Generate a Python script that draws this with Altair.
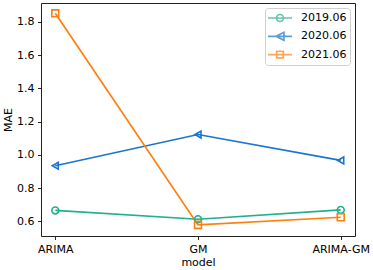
import altair as alt
import pandas as pd

models = ["ARIMA", "GM", "ARIMA-GM"]
series = ["2019.06", "2020.06", "2021.06"]
s2019 = [0.665, 0.612, 0.668]
s2020 = [0.934, 1.122, 0.966]
s2021 = [1.852, 0.578, 0.624]
colors = ["#1fb08c", "#1a74d2", "#ff7f0e"]
marker_shapes = ["circle", "triangle-left", "square"]
legend_shapes = [
    "M-2,0H2M-0.58,0A0.58,0.58 0 1,0 0.58,0A0.58,0.58 0 1,0 -0.58,0",
    "M-2,0H2M-0.66,0L0.66,-0.66L0.66,0.66Z",
    "M-2,0H2M-0.56,-0.56H0.56V0.56H-0.56Z",
]

rows = []
for name, vals in zip(series, [s2019, s2020, s2021]):
    for m, v in zip(models, vals):
        rows.append({"model": m, "series": name, "MAE": v})
df = pd.DataFrame(rows)

FONT = "DejaVu Sans"

x_enc = alt.X(
    "model:N",
    sort=models,
    scale=alt.Scale(type="point", padding=0.1),
    axis=alt.Axis(title="model", labelAngle=0, titleY=20, titleBaseline="top"),
)
y_enc = alt.Y(
    "MAE:Q",
    scale=alt.Scale(domain=[0.511, 1.914], nice=False, zero=False),
    axis=alt.Axis(
        title="MAE",
        values=[0.6, 0.8, 1.0, 1.2, 1.4, 1.6, 1.8],
        format=".1f",
        titleX=-33,
        titleY=116.5,
        titleBaseline="middle",
        titleAlign="center",
        titleAngle=270,
    ),
)
color_main = alt.Color(
    "series:N", scale=alt.Scale(domain=series, range=colors), legend=None
)

lines = alt.Chart(df).mark_line(strokeWidth=1.7).encode(
    x=x_enc, y=y_enc, color=color_main, detail="series:N", order="series:N"
)
points = alt.Chart(df).mark_point(filled=False, size=48, strokeWidth=1.6, opacity=1).encode(
    x=x_enc,
    y=y_enc,
    color=color_main,
    shape=alt.Shape("series:N", scale=alt.Scale(domain=series, range=marker_shapes), legend=None),
)
main = alt.layer(lines, points)

leg = alt.Legend(
    title=None,
    orient="top-right",
    offset=5,
    symbolSize=144,
    symbolOffset=5,
    symbolStrokeWidth=1.7,
    symbolFillColor="transparent",
    labelFontSize=11,
    labelFont=FONT,
    labelColor="#000",
    labelOffset=14,
    padding=3,
    rowPadding=3.3,
    strokeColor="#d0d0d0",
    cornerRadius=3,
    fillColor="white",
)
legend_layer = (
    alt.Chart(df)
    .transform_filter("false")
    .mark_point(filled=False)
    .encode(
        x=x_enc,
        y=y_enc,
        color=alt.Color("series:N", scale=alt.Scale(domain=series, range=colors), legend=leg),
        shape=alt.Shape("series:N", scale=alt.Scale(domain=series, range=legend_shapes), legend=leg),
    )
)

chart = (
    alt.layer(main, legend_layer)
    .resolve_scale(color="independent", shape="independent")
    .properties(
        width=314,
        height=233,
        padding={"left": 41, "top": 3, "right": 18, "bottom": 34},
        autosize=alt.AutoSizeParams(type="none"),
        background="white",
    )
    .configure_view(stroke="#222", strokeWidth=1)
    .configure_axis(
        grid=False,
        domain=False,
        tickColor="#222",
        tickSize=3.5,
        tickWidth=1,
        labelFont=FONT,
        labelFontSize=11,
        labelColor="#000",
        labelPadding=3.5,
        titleFont=FONT,
        titleFontSize=11,
        titleFontWeight="normal",
        titleColor="#000",
    )
)

chart.save("out.html", embed_options={"renderer": "svg", "actions": False})
